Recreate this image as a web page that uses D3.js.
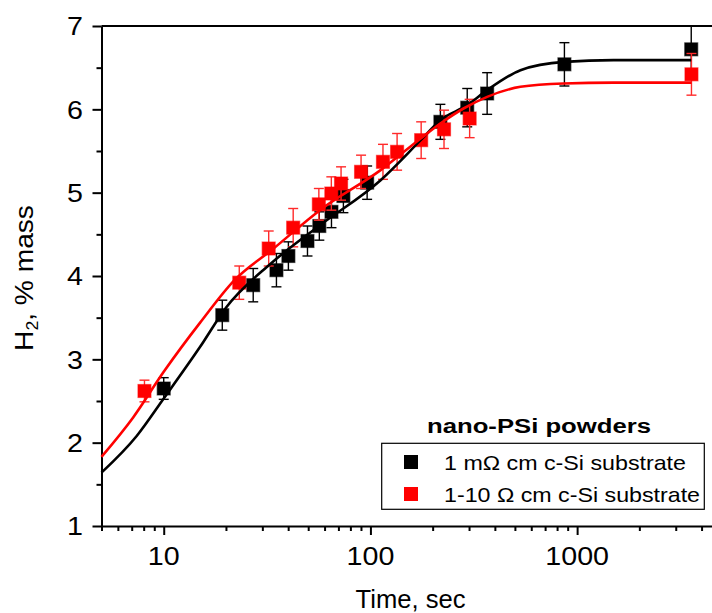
<!DOCTYPE html>
<html>
<head>
<meta charset="utf-8">
<script src="https://cdn.jsdelivr.net/npm/d3@7"></script>
<style>
  html, body { margin: 0; padding: 0; background: #fff; }
  svg { display: block; }
  text { font-family: "Liberation Sans", Arial, sans-serif; fill: #000; }
</style>
</head>
<body>
<svg id="chart" width="712" height="613"></svg>
<script>
// ---- data ----
// Series 1: 1 mΩ cm c-Si substrate (black)
const blackTime = [10, 19.2, 27.1, 35.1, 40.1, 49.6, 56.6, 64.8, 74, 96.4, 218, 294, 367, 868, 3565];
const blackH2   = [2.65, 3.53, 3.89, 4.07, 4.24, 4.42, 4.60, 4.77, 4.96, 5.12, 5.85, 6.02, 6.19, 6.54, 6.72];
const blackErr  = [0.13, 0.18, 0.20, 0.20, 0.17, 0.18, 0.17, 0.19, 0.20, 0.20, 0.21, 0.23, 0.25, 0.26, 0.28];
// Series 2: 1-10 Ω cm c-Si substrate (red)
const redTime = [8.07, 23.2, 32.2, 42.3, 56.3, 64.7, 72.1, 90.1, 115, 134.6, 176, 227, 302, 3574];
const redH2   = [2.62, 3.92, 4.33, 4.58, 4.86, 4.99, 5.11, 5.25, 5.37, 5.49, 5.63, 5.76, 5.89, 6.42];
const redErr  = [0.13, 0.20, 0.21, 0.23, 0.19, 0.20, 0.20, 0.20, 0.21, 0.22, 0.22, 0.23, 0.23, 0.25];
// Fit curves
const blackFitTime = [5, 7.4, 10, 15, 20, 33, 57, 112, 175, 218, 294, 367, 532, 868, 1500, 3565];
const blackFitH2   = [1.64, 2.08, 2.53, 3.15, 3.62, 4.15, 4.61, 5.15, 5.63, 5.87, 6.05, 6.23, 6.47, 6.57, 6.59, 6.59];
const redFitTime = [5, 7.1, 10, 15, 22, 34, 57, 112, 175, 218, 282, 367, 532, 860, 1500, 3574];
const redFitH2   = [1.83, 2.30, 2.85, 3.44, 3.95, 4.33, 4.79, 5.27, 5.65, 5.83, 6.01, 6.15, 6.27, 6.31, 6.32, 6.32];
// Axes
const xMajorTicks = [10, 100, 1000];
const xTickLabels = ["10", "100", "1000"];
const xMinorTicks = [5,6,7,8,9,20,30,40,50,60,70,80,90,200,300,400,500,600,700,800,900,2000,3000,4000];
const yMajorTicks = [1, 2, 3, 4, 5, 6, 7];
const yMinorTicks = [1.5, 2.5, 3.5, 4.5, 5.5, 6.5];
const legendTitle = "nano-PSi powders";
const seriesNames = ["1 mΩ cm c-Si substrate", "1-10 Ω cm c-Si substrate"];
const seriesColors = ["#000000", "#ff0000"];
const xTitle = "Time, sec";

// ---- layout ----
const svg = d3.select("#chart");
svg.append("rect").attr("width", 712).attr("height", 613).attr("fill", "#fff");

const x = d3.scaleLog().domain([5, 5000]).range([101.5, 721.6]);
const y = d3.scaleLinear().domain([1, 7]).range([526, 26]);

const axisW = 2;

// top border line
svg.append("line")
  .attr("x1", x.range()[0]).attr("x2", x.range()[1])
  .attr("y1", y(7)).attr("y2", y(7))
  .attr("stroke", "#000").attr("stroke-width", axisW);

// x axis
const gx = svg.append("g").attr("transform", `translate(0,${y(1)})`);
gx.call(d3.axisBottom(x).tickValues(xMinorTicks).tickSize(5).tickSizeOuter(0).tickFormat(""));
gx.call(g => g.select(".domain").attr("stroke-width", axisW));
gx.append("g").call(d3.axisBottom(x).tickValues(xMajorTicks).tickSize(9).tickSizeOuter(0).tickFormat(""))
  .call(g => g.select(".domain").remove());
gx.selectAll(".tick line").attr("stroke-width", axisW);

// y axis
const gy = svg.append("g").attr("transform", `translate(${x.range()[0]},0)`);
gy.call(d3.axisLeft(y).tickValues(yMinorTicks).tickSize(5).tickSizeOuter(0).tickFormat(""));
gy.call(g => g.select(".domain").attr("stroke-width", axisW));
gy.append("g").call(d3.axisLeft(y).tickValues(yMajorTicks).tickSize(9).tickSizeOuter(0).tickFormat(""))
  .call(g => g.select(".domain").remove());
gy.selectAll(".tick line").attr("stroke-width", axisW);

// tick labels
const tickFont = 25.6, stretch = 1.12;
svg.append("g").selectAll("text").data(xMajorTicks).join("text")
  .attr("transform", d => `translate(${x(d)},565) scale(${stretch},1)`)
  .attr("text-anchor", "middle").attr("font-size", tickFont)
  .text((d, i) => xTickLabels[i]);
svg.append("g").selectAll("text").data(yMajorTicks).join("text")
  .attr("transform", d => `translate(83,${y(d) + 9.2}) scale(${stretch},1)`)
  .attr("text-anchor", "end").attr("font-size", tickFont)
  .text(d => d);

// axis titles
svg.append("text")
  .attr("transform", `translate(${(x.range()[0] + x.range()[1]) / 2 - 1},608)`)
  .attr("text-anchor", "middle").attr("font-size", 25.6)
  .text(xTitle);
const yt = svg.append("text")
  .attr("transform", "translate(33.3,278) rotate(-90) scale(1.1,1)")
  .attr("text-anchor", "middle").attr("font-size", 25.6);
yt.append("tspan").text("H");
yt.append("tspan").attr("font-size", 16).attr("dy", 5).text("2");
yt.append("tspan").attr("dy", -5).text(", % mass");

// ---- data marks ----
const plot = svg.append("g");
const series = [
  { t: blackTime, v: blackH2, e: blackErr, color: seriesColors[0], bar: "#000" },
  { t: redTime, v: redH2, e: redErr, color: seriesColors[1], bar: "#ff2a2a" }
];
const cap = 5, sq = 13;
series.forEach(s => {
  const pts = s.t.map((t, i) => ({ t, v: s.v[i], e: s.e[i] }));
  const g = plot.append("g");
  const eb = g.append("g").attr("stroke", s.bar).attr("stroke-width", 1.4);
  eb.selectAll("line.v").data(pts).join("line").attr("class", "v")
    .attr("x1", d => x(d.t)).attr("x2", d => x(d.t))
    .attr("y1", d => y(d.v - d.e)).attr("y2", d => y(d.v + d.e));
  eb.selectAll("line.top").data(pts).join("line").attr("class", "top")
    .attr("x1", d => x(d.t) - cap).attr("x2", d => x(d.t) + cap)
    .attr("y1", d => y(d.v + d.e)).attr("y2", d => y(d.v + d.e));
  eb.selectAll("line.bot").data(pts).join("line").attr("class", "bot")
    .attr("x1", d => x(d.t) - cap).attr("x2", d => x(d.t) + cap)
    .attr("y1", d => y(d.v - d.e)).attr("y2", d => y(d.v - d.e));
  g.selectAll("rect").data(pts).join("rect")
    .attr("x", d => x(d.t) - sq / 2).attr("y", d => y(d.v) - sq / 2)
    .attr("width", sq).attr("height", sq)
    .attr("fill", s.color).attr("stroke", s.color).attr("stroke-opacity", 0.55).attr("stroke-width", 1.2);
});

// fit curves
const line = d3.line().x(d => x(d[0])).y(d => y(d[1])).curve(d3.curveMonotoneX);
plot.append("path").datum(blackFitTime.map((t, i) => [t, blackFitH2[i]]))
  .attr("d", line).attr("fill", "none").attr("stroke", seriesColors[0]).attr("stroke-width", 2.6);
plot.append("path").datum(redFitTime.map((t, i) => [t, redFitH2[i]]))
  .attr("d", line).attr("fill", "none").attr("stroke", seriesColors[1]).attr("stroke-width", 2.6);

// ---- legend ----
const lg = svg.append("g");
lg.append("text").attr("x", 539).attr("y", 433.3).attr("text-anchor", "middle")
  .attr("font-size", 20).attr("font-weight", "bold")
  .attr("textLength", 224).attr("lengthAdjust", "spacingAndGlyphs")
  .text(legendTitle);
lg.append("rect").attr("x", 381.7).attr("y", 443.3).attr("width", 322.6).attr("height", 66)
  .attr("fill", "#fff").attr("stroke", "#000").attr("stroke-width", 1.2);
const entryLen = [242, 256];
seriesNames.forEach((name, i) => {
  const cy = 462 + i * 32;
  lg.append("rect").attr("x", 411 - 7).attr("y", cy - 7).attr("width", 14).attr("height", 14)
    .attr("fill", seriesColors[i]);
  lg.append("text").attr("x", 444).attr("y", 470 + i * 31.5)
    .attr("font-size", 21)
    .attr("textLength", entryLen[i]).attr("lengthAdjust", "spacingAndGlyphs")
    .text(name);
});
</script>
</body>
</html>
